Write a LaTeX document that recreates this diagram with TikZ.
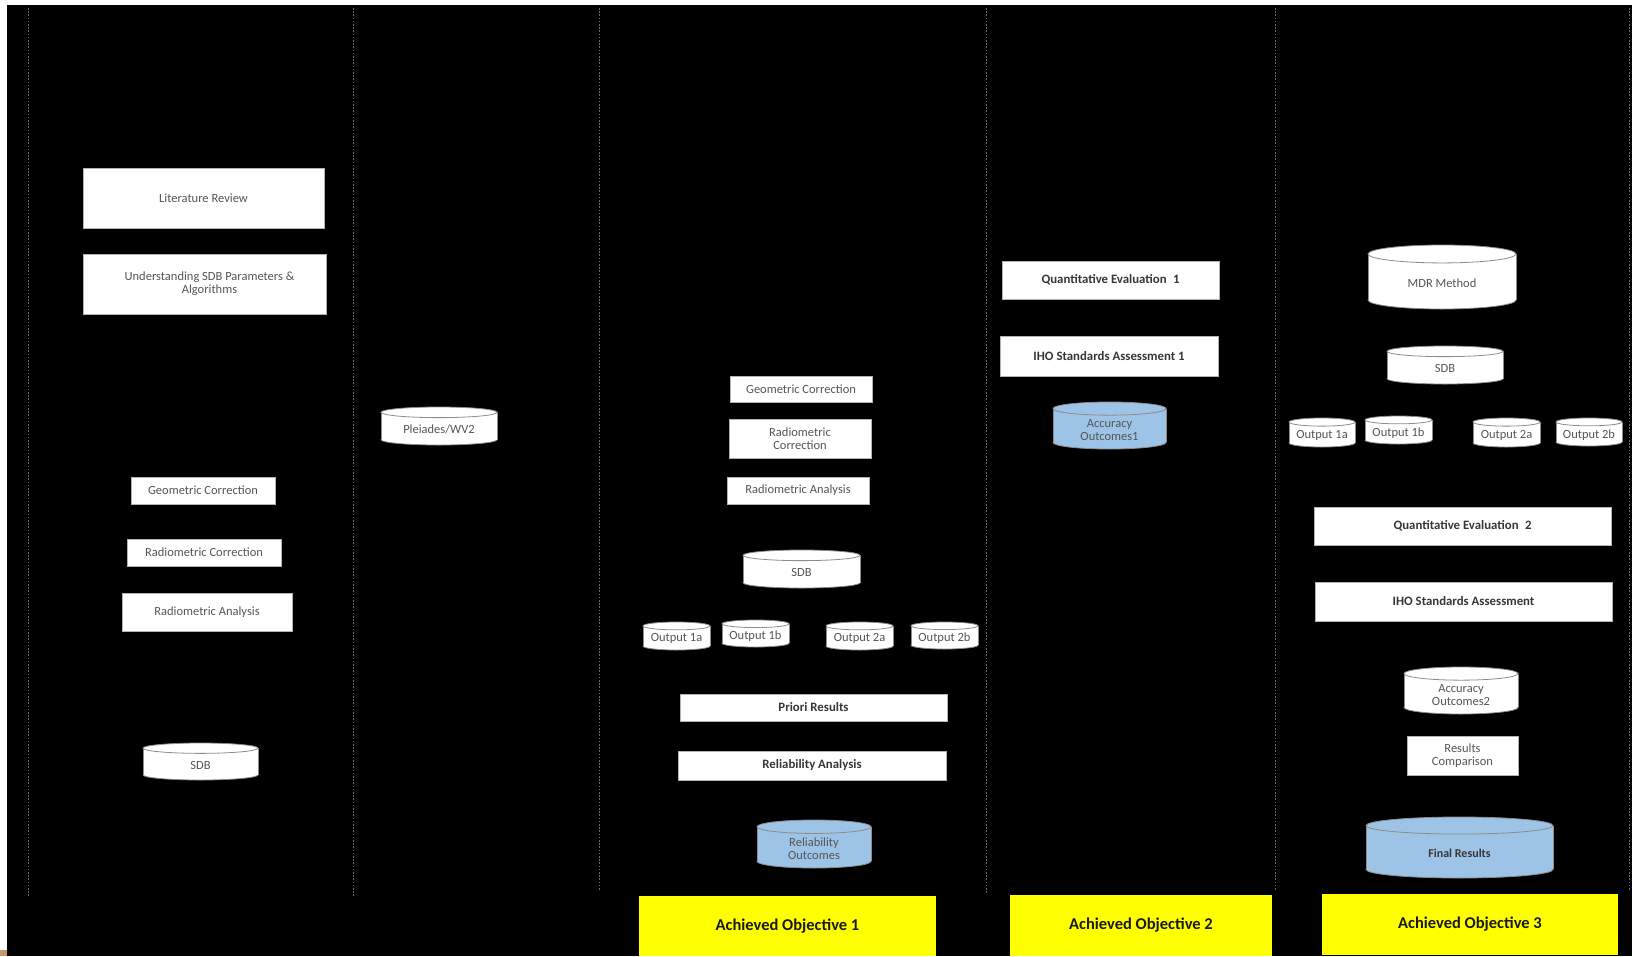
\documentclass[tikz,border=0pt]{standalone}
\usepackage{fontspec}
\setmainfont{Carlito}
\definecolor{laneline}{RGB}{105,105,105}
\definecolor{boxtext}{RGB}{85,85,85}
\definecolor{boldtext}{RGB}{55,55,55}
\definecolor{outcomeblue}{RGB}{157,195,230}
\definecolor{goalyellow}{RGB}{255,255,0}
\definecolor{cornertan}{RGB}{200,150,105}

% rectangular step box spanning (x1,y1)-(x2,y2)
\newcommand{\stepbox}[7]{%
  \node[#6, minimum width={(#4-#2)*1pt}, minimum height={(#5-#3)*1pt}]
    (#1) at ({(#2+#4)/2},{(#3+#5)/2}) {#7};}

% data cylinder spanning (x1,y1)-(x2,y2), fill colour #6
\newcommand{\drum}[8][drumtext]{%
  \pgfmathsetmacro{\dxa}{#3}\pgfmathsetmacro{\dya}{#4}%
  \pgfmathsetmacro{\dxb}{#5}\pgfmathsetmacro{\dyb}{#6}%
  \pgfmathsetmacro{\drx}{(\dxb-\dxa)/2}%
  \pgfmathsetmacro{\dry}{max(3.6,0.14*(\dyb-\dya))}%
  \pgfmathsetmacro{\dcx}{(\dxa+\dxb)/2}%
  \pgfmathsetmacro{\dtop}{\dya+\dry}%
  \pgfmathsetmacro{\dbot}{\dyb-\dry}%
  \filldraw[drumline, fill=#7] (\dcx,\dbot) ellipse[x radius=\drx, y radius=\dry];
  \fill[#7] (\dxa,\dtop) rectangle (\dxb,\dbot);
  \draw[drumline] (\dxa,\dtop) -- (\dxa,\dbot) (\dxb,\dtop) -- (\dxb,\dbot);
  \filldraw[drumline, fill=#7] (\dcx,\dtop) ellipse[x radius=\drx, y radius=\dry];
  \node[#1] (#2) at (\dcx,{(\dya+\dyb)/2+0.7*\dry}) {#8};}

\begin{document}
\begin{tikzpicture}[x=1pt,y=-1pt,
  lane/.style={draw=laneline, line width=1pt, dash pattern=on 1.6pt off 1.6pt},
  plainbox/.style={draw=black!30, line width=0.8pt, fill=white, inner sep=0pt,
    text=boxtext, align=center, font=\fontsize{12.5}{13}\selectfont},
  boldbox/.style={plainbox, text=boldtext, font=\fontsize{12.8}{13}\selectfont\bfseries},
  goalbox/.style={fill=goalyellow, inner sep=0pt, text=black!90,
    font=\fontsize{16.5}{18}\selectfont\bfseries},
  drumline/.style={draw=black!45, line width=0.8pt},
  drumtext/.style={inner sep=0pt, text=boxtext, align=center,
    font=\fontsize{12.5}{13}\selectfont},
  drumbold/.style={drumtext, text=boldtext, font=\fontsize{12}{13}\selectfont\bfseries}]

% canvas
\useasboundingbox (0,0) rectangle (1632,956);
\fill[white] (0,0) rectangle (1632,956);
\fill[black] (7,5) rectangle (1632,956);
\fill[cornertan] (0,950) rectangle (7,956);

% lane dividers
\draw[lane] (28,8) -- (28,897);
\draw[lane] (353,8) -- (353,897);
\draw[lane] (599,8) -- (599,890);
\draw[lane] (986,8) -- (986,893);
\draw[lane] (1275,8) -- (1275,890);
\draw[lane] (1629,8) -- (1629,890);

% lane 1: background study and preprocessing
\stepbox{lit}{83}{168}{324}{228}{plainbox}{Literature Review}
\stepbox{und}{83}{254}{326}{314}{plainbox}{\hspace*{10pt}Understanding SDB Parameters \&\\\hspace*{10pt}Algorithms}
\stepbox{geoA}{131}{477}{275}{504}{plainbox}{Geometric Correction}
\stepbox{radcA}{127}{539}{281}{566}{plainbox}{Radiometric Correction}
\stepbox{radaA}{122}{593}{292}{631}{plainbox}{Radiometric Analysis}
\drum{sdbA}{143}{743}{258}{780}{white}{SDB}

% lane 2: imagery
\drum{imagery}{381}{407}{497}{445}{white}{Pleiades/WV2}

% lane 3: objective 1
\stepbox{geoB}{730}{376}{872}{402}{plainbox}{Geometric Correction}
\stepbox{radcB}{729}{419}{871}{458}{plainbox}{Radiometric\\Correction}
\stepbox{radaB}{727}{477}{869}{504}{plainbox}{Radiometric Analysis}
\drum{sdbB}{743}{550}{860}{588}{white}{SDB}
\drum{outAa}{643}{622}{710}{650}{white}{Output 1a}
\drum{outAb}{722}{620}{789}{647}{white}{Output 1b}
\drum{outBa}{826}{622}{893}{650}{white}{Output 2a}
\drum{outBb}{911}{622}{978}{649}{white}{Output 2b}
\stepbox{priori}{680}{694}{947}{721}{boldbox}{Priori Results}
\stepbox{relan}{678}{751}{946}{780}{boldbox}{Reliability Analysis}
\drum{relout}{757}{820}{871}{868}{outcomeblue}{Reliability\\Outcomes}
\stepbox{goalA}{639}{896}{936}{956}{goalbox}{Achieved Objective 1}

% lane 4: objective 2
\stepbox{qeA}{1002}{261}{1219}{299}{boldbox}{Quantitative Evaluation\enspace 1}
\stepbox{ihoA}{1000}{336}{1218}{376}{boldbox}{IHO Standards Assessment 1}
\drum{accA}{1053}{402}{1166}{449}{outcomeblue}{Accuracy\\Outcomes1}
\stepbox{goalB}{1010}{895}{1272}{956}{goalbox}{Achieved Objective 2}

% lane 5: objective 3
\drum{mdr}{1368}{245}{1516}{309}{white}{MDR Method}
\drum{sdbC}{1387}{346}{1503}{384}{white}{SDB}
\drum{outCa}{1289}{418}{1355}{447}{white}{Output 1a}
\drum{outCb}{1365}{416}{1432}{444}{white}{Output 1b}
\drum{outDa}{1473}{418}{1540}{447}{white}{Output 2a}
\drum{outDb}{1556}{418}{1622}{446}{white}{Output 2b}
\stepbox{qeB}{1314}{507}{1611}{545}{boldbox}{Quantitative Evaluation\enspace 2}
\stepbox{ihoB}{1315}{582}{1612}{621}{boldbox}{IHO Standards Assessment}
\drum{accB}{1404}{667}{1518}{714}{white}{Accuracy\\Outcomes2}
\stepbox{rescmp}{1407}{736}{1518}{775}{plainbox}{Results\\Comparison}
\drum[drumbold]{final}{1366}{817}{1553}{878}{outcomeblue}{Final Results}
\stepbox{goalC}{1322}{894}{1618}{955}{goalbox}{Achieved Objective 3}

\end{tikzpicture}
\end{document}
